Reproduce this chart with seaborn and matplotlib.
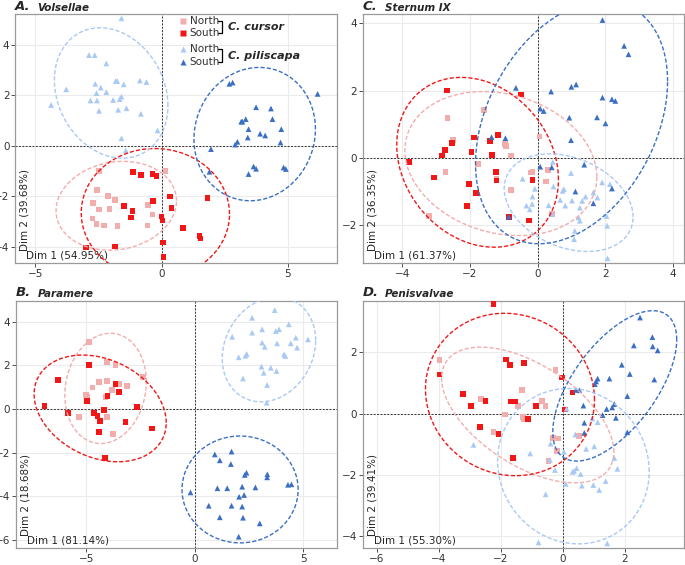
import numpy as np
import pandas as pd
import seaborn as sns
import matplotlib.pyplot as plt

# PCA scores, one list of (Dim1, Dim2) per population
vol_cur_north = [(-2.48, -0.99), (0.16, -0.99), (-2.57, -1.74), (-2.12, -1.98), (-1.86, -2.14),
                 (-2.72, -2.27), (-2.48, -2.53), (-2.06, -2.51), (-0.53, -2.36), (-2.74, -2.88),
                 (-0.36, -2.72), (-2.58, -3.09), (-2.29, -3.16), (-1.75, -3.17), (-0.56, -3.16)]
vol_cur_south = [(-1.13, -1.03), (-0.82, -1.17), (-0.36, -1.12), (-0.20, -1.19), (0.33, -2.01),
                 (-0.33, -2.19), (1.82, -2.07), (0.40, -2.46), (-1.49, -2.40), (-1.15, -2.60),
                 (-1.22, -2.84), (0.00, -2.80), (0.04, -2.96), (0.86, -3.27), (1.50, -3.59),
                 (1.55, -3.68), (0.07, -3.84), (-1.84, -4.00), (-3.00, -4.03), (0.08, -4.40)]
vol_pil_north = [(-1.59, 5.06), (-2.88, 3.60), (-2.65, 3.60), (-2.19, 3.27), (-3.78, 2.24),
                 (-4.38, 1.62), (-2.63, 2.46), (-2.41, 2.31), (-2.58, 2.09), (-2.19, 2.13),
                 (-1.82, 2.57), (-1.76, 2.57), (-1.50, 2.44), (-0.86, 2.59), (-0.60, 2.53),
                 (-2.82, 1.80), (-2.56, 1.80), (-2.48, 1.39), (-1.92, 1.82), (-1.66, 1.85),
                 (-1.59, 1.95), (-1.72, 1.43), (-1.39, 1.49), (-0.82, 1.27), (-0.16, 0.61),
                 (-1.59, 0.30), (-1.42, -0.18)]
vol_pil_south = [(2.69, 2.46), (2.82, 2.51), (6.19, 2.06), (3.75, 1.53), (4.34, 1.48),
                 (3.34, 1.06), (3.21, 0.96), (4.40, 1.06), (3.45, 0.66), (4.75, 0.66),
                 (3.91, 0.48), (4.11, 0.41), (3.42, 0.33), (3.01, 0.16), (2.92, 0.05),
                 (4.72, 0.13), (1.96, -0.13), (1.90, -1.03), (3.65, -0.82), (3.75, -0.91),
                 (3.45, -1.12), (4.84, -0.86), (4.93, -0.92), (3.16, 0.96)]

par_cur_north = [(-4.88, 3.07), (-4.03, 2.14), (-3.65, 2.02), (-2.38, 1.48), (-4.42, 1.25),
                 (-4.03, 1.28), (-3.50, 1.13), (-3.14, 1.05), (-4.71, 0.98), (-3.83, 0.87),
                 (-5.02, 0.64), (-4.94, 0.56), (-4.11, 0.56), (-5.34, -0.38), (-4.06, -0.38),
                 (-3.76, -1.16)]
par_cur_south = [(-4.86, 2.03), (-6.32, 1.33), (-3.65, 1.13), (-3.50, 0.79), (-4.02, 0.60),
                 (-4.98, 0.38), (-6.93, 0.14), (-2.68, 0.08), (-4.17, -0.05), (-5.83, -0.17),
                 (-4.65, -0.17), (-4.48, -0.32), (-4.37, -0.55), (-3.19, -0.58), (-1.96, -0.89),
                 (-4.42, -1.04), (-4.14, -2.23)]
par_pil_north = [(3.68, 4.53), (2.64, 4.18), (4.33, 3.88), (3.10, 3.65), (3.88, 3.65),
                 (3.73, 3.57), (2.64, 3.50), (1.72, 3.31), (4.65, 3.27), (5.21, 3.19),
                 (3.10, 3.04), (3.79, 3.01), (4.42, 3.01), (3.22, 2.85), (4.71, 2.81),
                 (2.02, 2.37), (2.33, 2.44), (2.39, 2.52), (4.11, 2.50), (4.17, 2.43),
                 (3.07, 1.94), (3.50, 1.89), (3.17, 1.66), (3.76, 1.74), (2.22, 1.40),
                 (3.33, 1.10), (3.31, 0.29)]
par_pil_south = [(0.92, -2.08), (1.69, -1.95), (1.15, -2.35), (1.66, -2.52), (2.38, -2.92),
                 (2.30, -3.02), (3.34, -2.99), (3.33, -3.13), (-0.20, -3.82), (1.04, -3.63),
                 (1.49, -3.63), (2.18, -3.56), (2.79, -3.59), (4.29, -3.47), (4.45, -3.45),
                 (2.27, -3.94), (2.04, -4.02), (0.64, -4.43), (1.69, -4.43), (2.18, -4.47),
                 (1.15, -4.96), (2.22, -4.98), (2.99, -5.24), (2.02, -5.85)]

ste_cur_north = [(-1.58, 1.42), (-2.66, 1.19), (-2.51, 0.53), (-0.97, 0.40), (-0.94, 0.35),
                 (0.06, 0.63), (-0.79, 0.06), (-1.75, -0.19), (-2.72, -0.42), (-0.19, -0.44),
                 (-0.15, -0.43), (0.30, -0.37), (-1.21, -0.63), (0.25, -0.71), (-0.79, -0.96),
                 (0.42, -1.69), (-3.20, -1.74)]
ste_cur_south = [(-2.68, 2.00), (-0.49, 1.88), (-1.16, 0.67), (-1.88, 0.60), (-2.52, 0.43),
                 (-1.40, 0.50), (-2.73, 0.22), (-2.82, 0.06), (-1.95, 0.17), (-1.35, 0.07),
                 (-3.80, -0.12), (-1.22, -0.43), (-1.21, -0.68), (-3.06, -0.59), (-0.15, -0.66),
                 (-2.03, -0.78), (-1.83, -1.05), (-2.08, -1.44), (-0.85, -1.76), (-0.25, -1.87)]
ste_pil_north = [(0.45, -0.13), (-0.44, -0.63), (0.99, -0.46), (-0.08, -0.93), (0.47, -0.86),
                 (0.74, -0.99), (0.78, -0.94), (-0.15, -1.16), (0.67, -1.26), (-0.33, -1.43),
                 (-0.16, -1.38), (-0.23, -1.54), (0.33, -1.42), (0.82, -1.43), (1.02, -1.28),
                 (1.32, -1.29), (1.42, -1.16), (1.65, -1.04), (1.77, -1.19), (1.91, -0.74),
                 (2.14, -0.79), (1.25, -1.49), (1.21, -1.78), (1.25, -1.88), (2.04, -1.74),
                 (2.06, -2.03), (0.42, -1.68), (1.10, -2.18), (1.08, -2.43), (2.07, -3.00)]
ste_pil_south = [(1.92, 4.10), (2.56, 3.33), (2.69, 3.08), (-0.64, 2.08), (0.40, 1.97),
                 (1.00, 2.11), (1.14, 2.18), (1.92, 1.79), (2.20, 1.74), (2.30, 1.69),
                 (0.08, 1.46), (0.18, 1.39), (0.94, 1.19), (1.76, 1.20), (2.01, 1.02),
                 (-1.36, 0.61), (-0.95, 0.58), (0.99, 0.52), (0.08, -0.27), (0.42, -0.29),
                 (1.38, -0.21), (1.12, -1.01), (2.20, -0.92), (1.65, -1.36), (-0.85, -1.76)]

pen_cur_north = [(-3.98, 1.74), (-0.23, 1.42), (-1.32, 0.76), (-2.63, 0.48), (-0.66, 0.42),
                 (-0.55, 0.24), (-1.45, 0.24), (-1.87, -0.03), (-1.29, -0.12), (-1.26, -0.17),
                 (-0.32, -0.79), (-0.14, -0.81), (0.53, -0.74), (-2.23, -0.61), (-0.19, -1.22),
                 (-0.46, -1.55)]
pen_cur_south = [(-2.23, 3.56), (-1.82, 1.76), (-1.69, 1.59), (-1.24, 1.65), (-3.98, 1.27),
                 (-0.03, 1.18), (0.32, 0.69), (-3.21, 0.63), (-2.49, 0.42), (-1.66, 0.39),
                 (-1.59, 0.39), (-1.52, 0.39), (-2.95, 0.24), (-0.85, 0.24), (0.08, 0.13),
                 (-1.12, -0.17), (-2.67, -0.44), (-2.07, -0.66), (-1.61, -1.44)]
pen_pil_north = [(-2.88, -1.02), (-1.05, -1.30), (0.13, 0.16), (0.96, -0.16), (1.13, -0.28),
                 (0.41, -0.68), (-0.39, -0.98), (0.04, -1.25), (0.76, -1.15), (1.02, -1.07),
                 (-0.41, -1.51), (-0.25, -1.84), (0.32, -1.90), (0.45, -1.78), (0.37, -1.87),
                 (0.58, -1.97), (1.67, -1.45), (1.77, -1.80), (0.10, -2.29), (0.62, -2.35),
                 (0.99, -2.33), (1.18, -2.49), (1.39, -2.20), (-0.55, -2.63), (-0.78, -4.20),
                 (1.44, -4.23)]
pen_pil_south = [(2.50, 3.13), (2.90, 2.49), (2.30, 2.22), (2.91, 2.19), (3.07, 2.06),
                 (1.91, 1.59), (2.17, 1.29), (2.96, 1.11), (1.13, 1.14), (1.08, 1.05),
                 (1.51, 1.14), (1.04, 0.96), (0.43, 0.77), (0.54, 0.76), (2.09, 0.57),
                 (0.67, 0.26), (1.67, 0.31), (1.42, 0.15), (1.60, 0.20), (1.29, -0.05),
                 (1.72, -0.14), (0.70, -0.30), (0.70, -0.63), (2.09, -0.61)]

groups = ["cur_north", "cur_south", "pil_north", "pil_south"]
colors = {"cur_north": "#f2adad", "cur_south": "#f21616",
          "pil_north": "#a9c9f5", "pil_south": "#3a6fc4"}
markers = {"cur_north": "s", "cur_south": "s", "pil_north": "^", "pil_south": "^"}

panels = [
    ("A.", "Volsellae", [vol_cur_north, vol_cur_south, vol_pil_north, vol_pil_south],
     "Dim 1 (54.95%)", "Dim 2 (39.68%)"),
    ("C.", "Sternum IX", [ste_cur_north, ste_cur_south, ste_pil_north, ste_pil_south],
     "Dim 1 (61.37%)", "Dim 2 (36.35%)"),
    ("B.", "Paramere", [par_cur_north, par_cur_south, par_pil_north, par_pil_south],
     "Dim 1 (81.14%)", "Dim 2 (18.68%)"),
    ("D.", "Penisvalvae", [pen_cur_north, pen_cur_south, pen_pil_north, pen_pil_south],
     "Dim 1 (55.30%)", "Dim 2 (39.41%)"),
]
limits = [((-5.81, 6.96), (-4.65, 5.23)), ((-5.17, 4.33), (-3.14, 4.28)),
          ((-8.25, 6.55), (-6.38, 4.95)), ((-6.46, 3.92), (-4.39, 3.67))]
xticks = [[-5, 0, 5], [-4, -2, 0, 2, 4], [-5, 0, 5], [-6, -4, -2, 0, 2]]
yticks = [[-4, -2, 0, 2, 4], [-2, 0, 2, 4], [-6, -4, -2, 0, 2, 4], [-4, -2, 0, 2]]
boxes = [[0.022, 0.5345, 0.470, 0.4407], [0.5295, 0.5345, 0.469, 0.4407],
         [0.023, 0.0296, 0.469, 0.4377], [0.5295, 0.0296, 0.469, 0.4377]]


def ellipse(x, y, level=0.95, n=200):
    # normal confidence ellipse, chi-square radius with 2 df
    pts = np.column_stack([x, y])
    r = np.sqrt(-2 * np.log(1 - level))
    chol = np.linalg.cholesky(np.cov(pts.T))
    t = np.linspace(0, 2 * np.pi, n)
    circle = np.column_stack([np.cos(t), np.sin(t)])
    return pts.mean(0) + r * circle @ chol.T


sns.set_theme(style="white")
plt.rcParams["font.family"] = ["DejaVu Sans"]
fig = plt.figure(figsize=(6.85, 5.65), dpi=100)

for (letter, name, data, xlab, ylab), lim, xt, yt, box in zip(panels, limits, xticks, yticks, boxes):
    ax = fig.add_axes(box)
    df = pd.concat([pd.DataFrame(d, columns=["x", "y"]).assign(group=g) for g, d in zip(groups, data)],
                   ignore_index=True)
    ax.set_axisbelow(True)
    ax.grid(True, color="#ebebeb", lw=0.8)
    ax.axhline(0, color="#333333", lw=0.7, ls=(0, (2, 1.5)), zorder=1)
    ax.axvline(0, color="#333333", lw=0.7, ls=(0, (2, 1.5)), zorder=1)
    sns.scatterplot(data=df, x="x", y="y", hue="group", style="group", palette=colors,
                    markers=markers, s=17, linewidth=0, legend=False, ax=ax, zorder=3)
    for g in groups:
        sub = df[df.group == g]
        e = ellipse(sub.x, sub.y)
        ax.plot(e[:, 0], e[:, 1], color=colors[g], lw=1.0, ls=(0, (3, 1.5)), zorder=4)
    ax.set_xlim(lim[0])
    ax.set_ylim(lim[1])
    ax.set_xticks(xt)
    ax.set_yticks(yt)
    ax.set_xlabel("")
    ax.set_ylabel("")
    ax.tick_params(labelsize=7.5, colors="#333333", length=3, width=0.6, pad=1,
                   bottom=True, left=True)
    for s in ax.spines.values():
        s.set_color("#9a9a9a")
        s.set_linewidth(0.9)
    ax.text(0.0, 1.006, letter, transform=ax.transAxes, fontsize=9.5, fontweight="heavy",
            style="italic", va="bottom", ha="left")
    ax.text(0.068, 1.006, name, transform=ax.transAxes, fontsize=7.5, fontweight="bold",
            style="italic", va="bottom", ha="left")
    ax.text(0.035, 0.012, xlab, transform=ax.transAxes, fontsize=7.5, va="bottom", ha="left")
    ax.text(0.014, 0.05, ylab, transform=ax.transAxes, fontsize=7.5, va="bottom", ha="left",
            rotation=90)

    if letter == "A.":
        rows = [(0.972, "cur_north", "North"), (0.924, "cur_south", "South"),
                (0.859, "pil_north", "North"), (0.807, "pil_south", "South")]
        for yy, g, lab in rows:
            ax.plot([0.522], [yy], marker=markers[g], color=colors[g], ms=4.5, mec="none",
                    transform=ax.transAxes, clip_on=False)
            ax.text(0.542, yy, lab, transform=ax.transAxes, fontsize=7.5, va="center",
                    ha="left", color="#333333")
        for top, bot, sp in [(0.972, 0.924, "C. cursor"), (0.859, 0.807, "C. piliscapa")]:
            ax.plot([0.630, 0.643, 0.643, 0.630], [top, top, bot, bot], color="black", lw=0.9,
                    transform=ax.transAxes)
            ax.text(0.660, (top + bot) / 2, sp, transform=ax.transAxes, fontsize=8,
                    fontweight="bold", style="italic", va="center", ha="left")

fig.savefig("out.png", dpi=100)
